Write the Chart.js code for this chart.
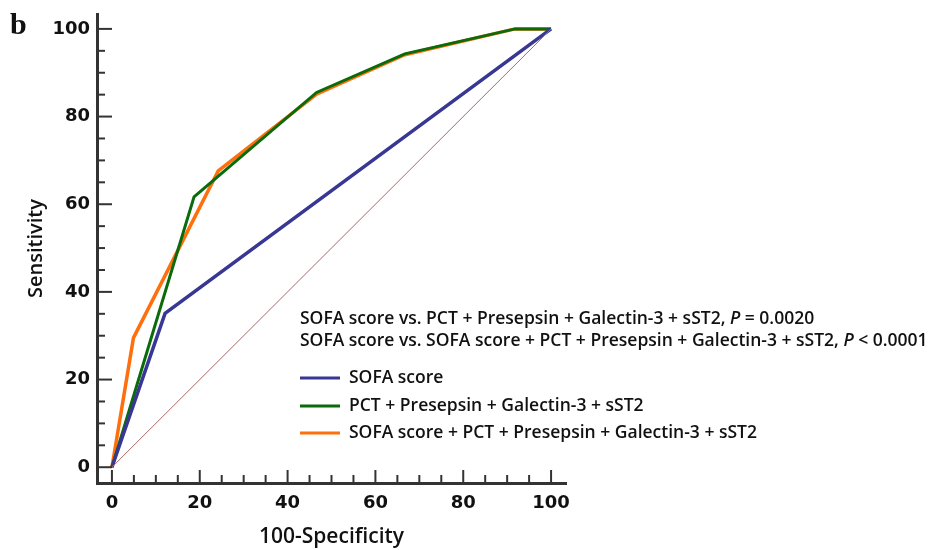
<!DOCTYPE html>
<html>
<head>
<meta charset="utf-8">
<script src="https://cdn.jsdelivr.net/npm/chart.js@4/dist/chart.umd.min.js"></script>
<style>
  html, body { margin: 0; padding: 0; background: #fff; }
  #wrap { width: 931px; height: 550px; position: relative; }
</style>
</head>
<body>
<div id="wrap"><canvas id="roc"></canvas></div>
<script>
// ROC curve points (100-Specificity, Sensitivity)
const sofaX = [0, 12.1, 100];
const sofaY = [0, 35.1, 100];
const panelX = [0, 18.7, 46.6, 66.7, 91.8, 100];
const panelY = [0, 61.7, 85.5, 94.3, 100, 100];
const comboX = [0, 4.9, 24.2, 46.6, 66.7, 91.8, 100];
const comboY = [0, 29.5, 67.6, 85.1, 94.1, 100, 100];
const refX = [0, 100];
const refY = [0, 100];

const seriesLabels = [
  "SOFA score",
  "PCT + Presepsin + Galectin-3 + sST2",
  "SOFA score + PCT + Presepsin + Galectin-3 + sST2"
];
const seriesColors = ["#383894", "#0b6b0b", "#ff6f0c"];
const tickValues = [0, 20, 40, 60, 80, 100];
const minorStep = 5;

const textFont = '600 17.5px "Open Sans"';
const italicFont = 'italic 600 17.5px "Open Sans"';

function toPoints(xs, ys) {
  return xs.map((x, i) => ({ x, y: ys[i] }));
}

// inward tick marks, legend and comparison text
const decorations = {
  id: "decorations",
  afterDraw(chart) {
    const { ctx, chartArea, scales } = chart;
    const xs = scales.x, ys = scales.y;
    ctx.save();
    ctx.strokeStyle = "#333";
    ctx.lineWidth = 2;
    for (let v = 0; v <= 100; v += minorStep) {
      const major = v % 20 === 0;
      const px = xs.getPixelForValue(v);
      ctx.beginPath();
      ctx.moveTo(px, chartArea.bottom);
      ctx.lineTo(px, chartArea.bottom - (major ? 13 : 8));
      ctx.stroke();
      const py = ys.getPixelForValue(v);
      ctx.beginPath();
      ctx.moveTo(chartArea.left, py);
      ctx.lineTo(chartArea.left + (major ? 15 : 8), py);
      ctx.stroke();
    }

    // panel letter
    ctx.fillStyle = "#111";
    ctx.font = 'bold 30px "Liberation Serif"';
    ctx.textBaseline = "alphabetic";
    ctx.textAlign = "left";
    ctx.fillText("b", 10, 34);

    // comparison lines
    ctx.textBaseline = "middle";
    const lines = [
      ["SOFA score vs. PCT + Presepsin + Galectin-3 + sST2, ", "P", " = 0.0020"],
      ["SOFA score vs. SOFA score + PCT + Presepsin + Galectin-3 + sST2, ", "P", " < 0.0001"]
    ];
    const lineY = [319, 341];
    lines.forEach((parts, i) => {
      let x = 300;
      parts.forEach((p, j) => {
        ctx.font = j === 1 ? italicFont : textFont;
        ctx.fillText(p, x, lineY[i]);
        x += ctx.measureText(p).width;
      });
    });

    // legend
    const legY = [378, 406, 433];
    ctx.font = textFont;
    seriesLabels.forEach((label, i) => {
      ctx.strokeStyle = seriesColors[i];
      ctx.lineWidth = 3;
      ctx.beginPath();
      ctx.moveTo(300, legY[i]);
      ctx.lineTo(340, legY[i]);
      ctx.stroke();
      ctx.fillText(label, 349, legY[i]);
    });
    ctx.restore();
  }
};

new Chart(document.getElementById("roc"), {
  type: "scatter",
  data: {
    datasets: [
      {
        label: "reference",
        data: toPoints(refX, refY),
        showLine: true,
        borderColor: "#a86868",
        borderWidth: 1,
        pointRadius: 0
      },
      {
        label: seriesLabels[0],
        data: toPoints(sofaX, sofaY),
        showLine: true,
        borderColor: seriesColors[0],
        borderWidth: 3.5,
        pointRadius: 0
      },
      {
        label: seriesLabels[1],
        data: toPoints(panelX, panelY),
        showLine: true,
        borderColor: seriesColors[1],
        borderWidth: 3,
        pointRadius: 0
      },
      {
        label: seriesLabels[2],
        data: toPoints(comboX, comboY),
        showLine: true,
        borderColor: seriesColors[2],
        borderWidth: 3.5,
        pointRadius: 0
      }
    ]
  },
  options: {
    responsive: true,
    maintainAspectRatio: false,
    animation: false,
    layout: { padding: { left: 0, top: 14, right: 365, bottom: 0 } },
    plugins: {
      legend: { display: false },
      tooltip: { enabled: false }
    },
    scales: {
      x: {
        type: "linear",
        min: -3.4,
        max: 103.4,
        afterBuildTicks: s => { s.ticks = tickValues.map(v => ({ value: v })); },
        afterFit: s => { s.height = 67; s.paddingLeft = 0; s.paddingRight = 0; },
        grid: { display: false, drawTicks: false },
        border: { display: true, color: "#333", width: 3 },
        ticks: { color: "#111", font: { family: "DejaVu Sans", size: 18, weight: "bold" }, padding: 10, maxRotation: 0 },
        title: {
          display: true,
          text: "100-Specificity",
          color: "#111",
          font: { family: "Open Sans", size: 21, weight: "600" },
          padding: { top: 0, bottom: 0 }
        }
      },
      y: {
        type: "linear",
        min: -3.6,
        max: 103.4,
        afterBuildTicks: s => { s.ticks = tickValues.map(v => ({ value: v })); },
        afterFit: s => { s.width = 97; s.paddingTop = 0; s.paddingBottom = 0; },
        grid: { display: false, drawTicks: false },
        border: { display: true, color: "#333", width: 3 },
        ticks: { color: "#111", font: { family: "DejaVu Sans", size: 18, weight: "bold" }, padding: 7 },
        title: {
          display: true,
          text: "Sensitivity",
          color: "#111",
          font: { family: "Open Sans", size: 20, weight: "600" },
          padding: { top: 24, bottom: 0 }
        }
      }
    }
  },
  plugins: [decorations]
});
</script>
</body>
</html>
